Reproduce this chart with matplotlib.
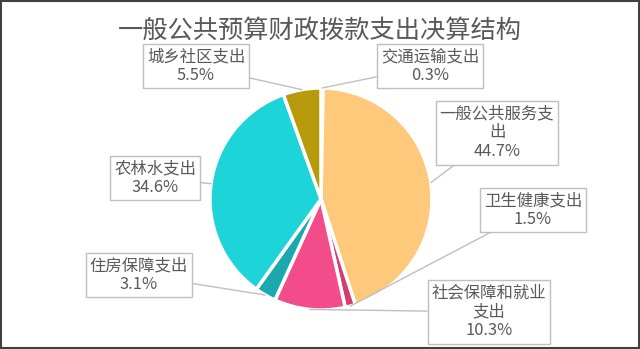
import numpy as np
import matplotlib
matplotlib.use("Agg")
import matplotlib.pyplot as plt
from matplotlib.patches import Rectangle

plt.rcParams['font.family'] = ['Noto Sans CJK SC', 'DejaVu Sans']

# data, clockwise from 12 o'clock
categories = ['交通运输支出', '一般公共服务支出', '卫生健康支出', '社会保障和就业支出',
              '住房保障支出', '农林水支出', '城乡社区支出']
label_text = ['交通运输支出', '一般公共服务支\n出', '卫生健康支出', '社会保障和就业\n支出',
              '住房保障支出', '农林水支出', '城乡社区支出']
shares = [0.3, 44.7, 1.5, 10.3, 3.1, 34.6, 5.5]
colors = ['#F3E37C', '#FFC97B', '#D63B70', '#F24C8A', '#1BA8AE', '#1DD5D9', '#B89A0D']

# label box centres in pixel space (x from left, y from top)
box_pos = [(430, 66), (497, 133), (533, 210), (489, 312), (139, 275), (155, 178), (196, 66)]

fig = plt.figure(figsize=(6.4, 3.49), dpi=100)
ax = fig.add_axes([0, 0, 1, 1])

cx, cy, r = 321, 349 - 199, 111
wedges, _ = ax.pie(shares, colors=colors, startangle=90, counterclock=False,
                   center=(cx, cy), radius=r, explode=[0.03] * len(shares),
                   wedgeprops=dict(edgecolor='white', linewidth=2.5))
ax.set_xlim(0, 640)
ax.set_ylim(0, 349)
ax.set_aspect('auto')
ax.axis('off')

for w, txt, val, (bx, by) in zip(wedges, label_text, shares, box_pos):
    ang = np.deg2rad((w.theta1 + w.theta2) / 2)
    px = w.center[0] + r * np.cos(ang)
    py = w.center[1] + r * np.sin(ang)
    ax.annotate(f'{txt}\n{val}%', xy=(px, py), xytext=(bx, 349 - by),
                ha='center', va='center', fontsize=11.8, color='#595959',
                linespacing=1.15,
                bbox=dict(boxstyle='square,pad=0.25', fc='white', ec='#BFBFBF', lw=1),
                arrowprops=dict(arrowstyle='-', color='#BFBFBF', lw=1,
                                shrinkA=0, shrinkB=0))

fig.text(0.5, 1 - 31 / 349, '一般公共预算财政拨款支出决算结构', ha='center', va='center',
         fontsize=18.2, color='#595959')

fig.patches.append(Rectangle((0.002, 0.004), 0.996, 0.992, transform=fig.transFigure,
                             fill=False, ec='#404040', lw=1.5))

plt.savefig('out.png', dpi=100, facecolor='white')
plt.close()
